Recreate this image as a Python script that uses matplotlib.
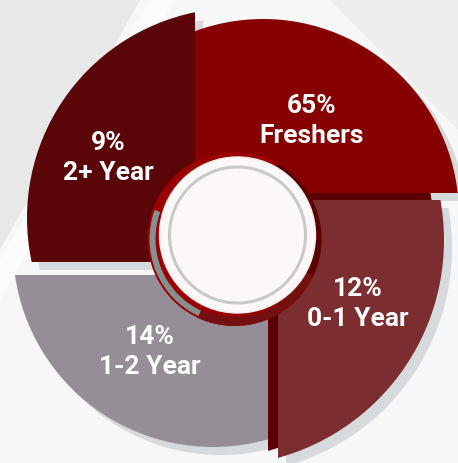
import matplotlib.pyplot as plt
from matplotlib.patches import Circle, Rectangle, Polygon, Wedge

# data
labels = ['Freshers', '0-1 Year', '1-2 Year', '2+ Year']
values = [65, 12, 14, 9]
colors = ['#870000', '#7b2d30', '#968e96', '#5a0508']

# geometry of the pinwheel pieces (pixel units, y going down)
# disc centre, radius, and the quadrant box that cuts the disc
centres = [(263, 215), (218, 240), (213, 247), (237, 218)]
radii = [196, 226, 200, 210]
boxes = [(195, -50, 400, 243),    # x0, y0, w, h
         (278, 200, 300, 400),
         (-50, 275, 318, 300),
         (-50, -50, 245, 312)]
text_pos = [(312, 121), (358, 304), (150, 352), (108, 158)]

plt.rcParams['font.family'] = ['Roboto', 'DejaVu Sans']
fig = plt.figure(figsize=(4.58, 4.63), dpi=100)
fig.patch.set_facecolor('#f7f7f7')
ax = fig.add_axes([0, 0, 1, 1])
ax.set_xlim(0, 458)
ax.set_ylim(463, 0)
ax.axis('off')

# faint background shapes
ax.add_patch(Polygon([(0, 0), (140, 0), (0, 250)], color='#e8e8e8', lw=0))
ax.add_patch(Polygon([(150, 0), (175, 0), (0, 300), (0, 260)], color='#fbfbfb', lw=0))
ax.add_patch(Polygon([(330, 0), (458, 0), (458, 130)], color='#eeeeee', lw=0))


def piece(i, dx=0, dy=0, color=None, z=1):
    cx, cy = centres[i]
    x0, y0, w, h = boxes[i]
    box = Rectangle((x0 + dx, y0 + dy), w, h, transform=ax.transData)
    c = Circle((cx + dx, cy + dy), radii[i], color=color or colors[i], lw=0, zorder=z)
    ax.add_patch(c)
    c.set_clip_path(box)


# shadows
order = [3, 0, 2, 1]
for i in order:
    piece(i, 8, 8, '#d6dadd', 1)
# dark side of the 0-1 piece
piece(1, -10, -7, '#5a0000', 2)
for i in order:
    piece(i, z=3)

# centre ring and hole
cx0, cy0 = 237.5, 235
rc = (cx0 - 3, cy0 + 4)
ax.add_patch(Circle(rc, 87, color='#9a0000', lw=0, zorder=4))
ax.add_patch(Wedge(rc, 85, 115, 200, width=6, color='#84908f', lw=0, zorder=4))
ax.add_patch(Wedge(rc, 87, 25, 115, width=9, color='#741010', lw=0, zorder=4))
ax.add_patch(Wedge(rc, 87, -60, 25, width=9, color='#5a0000', lw=0, zorder=4))
ax.add_patch(Circle((cx0, cy0), 78, facecolor='#fdf8f8', edgecolor='#ececec', lw=1, zorder=5))
ax.add_patch(Circle((cx0, cy0), 68, facecolor='none', edgecolor='#c9c9c9', lw=2.2, zorder=6))

for i in range(len(labels)):
    x, y = text_pos[i]
    ax.text(x, y, f'{values[i]}%\n{labels[i]}', ha='center', va='center',
            color='white', fontsize=19, fontweight='bold', linespacing=1.35, zorder=7)

fig.savefig('out.png', dpi=100, facecolor=fig.get_facecolor())
